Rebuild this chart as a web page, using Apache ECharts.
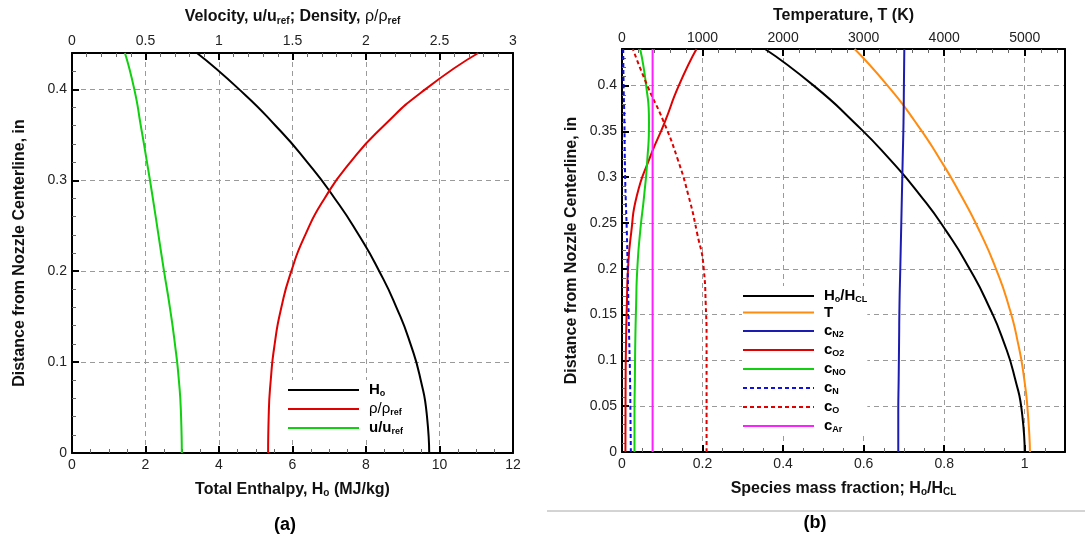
<!DOCTYPE html>
<html><head><meta charset="utf-8">
<script src="https://cdn.jsdelivr.net/npm/echarts@6/dist/echarts.min.js"></script>
<style>html,body{margin:0;padding:0;background:#fff}#c{width:1085px;height:540px}</style>
</head><body><div id="c"></div>
<script>
// ---------- data ----------
// distance from nozzle centerline (in), shared by both panels
const yDist = [0, 0.04, 0.08, 0.12, 0.16, 0.2, 0.24, 0.28, 0.32, 0.36, 0.4, 0.44];

// Panel (a)
const enthalpyHo = [9.72, 9.66, 9.49, 9.21, 8.83, 8.36, 7.80, 7.15, 6.40, 5.54, 4.55, 3.40];      // MJ/kg
const densityRatio = [1.334, 1.338, 1.352, 1.379, 1.424, 1.492, 1.587, 1.718, 1.894, 2.121, 2.403, 2.764];
const velocityRatio = [0.747, 0.742, 0.727, 0.70, 0.666, 0.626, 0.588, 0.55, 0.51, 0.468, 0.424, 0.36];

// Panel (b)
const hoRatio = [1.0, 0.994, 0.976, 0.948, 0.910, 0.863, 0.807, 0.741, 0.664, 0.576, 0.476, 0.355];
const temperature = [5065, 5041, 4993, 4914, 4800, 4643, 4445, 4210, 3945, 3645, 3297, 2888];  // K
const cN2 = [0.686, 0.686, 0.687, 0.688, 0.689, 0.691, 0.693, 0.695, 0.697, 0.699, 0.700, 0.701];
const cO2 = [0.0085, 0.0087, 0.009, 0.010, 0.012, 0.015, 0.023, 0.037, 0.068, 0.106, 0.141, 0.185];
const cNO = [0.031, 0.031, 0.032, 0.033, 0.035, 0.038, 0.045, 0.055, 0.063, 0.067, 0.060, 0.045];
const cN = [0.022, 0.021, 0.020, 0.018, 0.016, 0.014, 0.012, 0.009, 0.007, 0.006, 0.004, 0.003];
const cO = [0.21, 0.21, 0.21, 0.21, 0.208, 0.203, 0.186, 0.165, 0.138, 0.104, 0.063, 0.027];
const cAr = [0.076, 0.076, 0.076, 0.076, 0.076, 0.076, 0.076, 0.076, 0.076, 0.076, 0.076, 0.076];

// axis ranges / ticks
const xBottomA = {min: 0, max: 12, interval: 2};
const xTopA = {min: 0, max: 3, interval: 0.5};
const yAxisA = {min: 0, max: 0.44, interval: 0.1};
const xBottomB = {min: 0, max: 1.1, interval: 0.2};
const xTopB = {min: 0, max: 5500, interval: 1000};
const yAxisB = {min: 0, max: 0.44, interval: 0.05};

// ---------- helpers ----------
const FONT = "'Liberation Sans', Arial, Helvetica, sans-serif";
const pairs = (xs, ys) => xs.map((x, i) => [x, ys[i]]);
const rich = {
  b: {fontFamily: FONT, fontSize: 16, fontWeight: 'bold', color: '#111', lineHeight: 18},
  n: {fontFamily: FONT, fontSize: 16, fontWeight: 'normal', color: '#111', lineHeight: 18},
  s: {fontFamily: FONT, fontSize: 10, fontWeight: 'bold', color: '#111', lineHeight: 10, verticalAlign: 'bottom', padding: [11, 0, 0, 0]}
};
const legRich = {
  b: {fontFamily: FONT, fontSize: 15, fontWeight: 'bold', color: '#000', lineHeight: 16},
  n: {fontFamily: FONT, fontSize: 15, fontWeight: 'normal', color: '#000', lineHeight: 16},
  s: {fontFamily: FONT, fontSize: 9, fontWeight: 'bold', color: '#000', lineHeight: 9, verticalAlign: 'bottom', padding: [9, 0, 0, 0]}
};
const legendLabels = {
  Ho: '{b|H}{s|o}', rho: '{n|ρ/ρ}{s|ref}', u: '{b|u/u}{s|ref}',
  HoHCL: '{b|H}{s|o}{b|/H}{s|CL}', T: '{b|T}', cN2: '{b|c}{s|N2}', cO2: '{b|c}{s|O2}',
  cNO: '{b|c}{s|NO}', cN: '{b|c}{s|N}', cO: '{b|c}{s|O}', cAr: '{b|c}{s|Ar}'
};

function axisBase(extra, hideMax) {
  return Object.assign({
    type: 'value',
    axisLine: {show: true, onZero: false, lineStyle: {color: '#000', width: 2}},
    axisTick: {show: true, inside: true, length: 7, lineStyle: {color: '#000', width: 2}},
    minorTick: {show: true, length: 4, lineStyle: {color: '#666', width: 1}},
    axisLabel: {fontFamily: FONT, fontSize: 14, color: '#222', margin: 5, showMaxLabel: !hideMax,
      formatter: v => String(v)},
    splitLine: {show: false},
    nameLocation: 'middle',
    nameTextStyle: {fontFamily: FONT, fontSize: 16, fontWeight: 'bold', color: '#111', rich: rich}
  }, extra);
}
const dashed = {show: true, showMinLine: false, showMaxLine: false, lineStyle: {color: '#9a9a9a', type: [5, 4], width: 1}};
const minor = n => ({show: true, splitNumber: n, length: 4, lineStyle: {color: '#666', width: 1}});

function lineSeries(name, data, color, xi, yi, dash) {
  return {
    name: name, type: 'line', data: data, xAxisIndex: xi, yAxisIndex: yi,
    symbol: 'none', showSymbol: false, smooth: 0.6, silent: true,
    lineStyle: {color: color, width: 2, type: dash ? [4, 3] : 'solid'},
    itemStyle: {color: color}, z: 5
  };
}
function legendCfg(names, left, top) {
  return {data: names, orient: 'vertical', left: left, top: top, padding: 0,
    itemWidth: 71, itemHeight: 14, itemGap: 1, backgroundColor: '#fff',
    itemStyle: {opacity: 0}, selectedMode: false,
    formatter: n => legendLabels[n], textStyle: {rich: legRich, padding: [0, 0, 0, 5]}};
}

const option = {
  animation: false,
  backgroundColor: '#fff',
  grid: [
    {left: 72, right: 572, top: 51, bottom: 87},
    {left: 622, right: 20, top: 49, bottom: 88}
  ],
  xAxis: [
    axisBase(Object.assign({gridIndex: 0, position: 'bottom', splitLine: dashed, minorTick: minor(4),
      name: 'Total Enthalpy, H{s|o} (MJ/kg)', nameGap: 29}, xBottomA)),
    axisBase(Object.assign({gridIndex: 0, position: 'top', minorTick: minor(5),
      name: 'Velocity, u/u{s|ref}; Density, {n|ρ/ρ}{s|ref}', nameGap: 27}, xTopA)),
    axisBase(Object.assign({gridIndex: 1, position: 'bottom', splitLine: dashed, minorTick: minor(4),
      name: 'Species mass fraction; H{s|o}/H{s|CL}', nameGap: 29}, xBottomB), true),
    axisBase(Object.assign({gridIndex: 1, position: 'top', minorTick: minor(5),
      name: 'Temperature, T (K)', nameGap: 25, axisLabel: {fontFamily: FONT, fontSize: 14, color: '#222',
      margin: 4, showMaxLabel: false, formatter: v => String(v)}}, xTopB))
  ],
  yAxis: [
    axisBase(Object.assign({gridIndex: 0, position: 'left', splitLine: dashed, minorTick: minor(5),
      name: 'Distance from Nozzle Centerline, in', nameGap: 44}, yAxisA), true),
    axisBase(Object.assign({gridIndex: 0, position: 'right', axisTick: {show: false}, minorTick: {show: false},
      axisLabel: {show: false}}, yAxisA)),
    axisBase(Object.assign({gridIndex: 1, position: 'left', splitLine: dashed, minorTick: minor(5),
      name: 'Distance from Nozzle Centerline, in', nameGap: 42}, yAxisB), true),
    axisBase(Object.assign({gridIndex: 1, position: 'right', axisTick: {show: false}, minorTick: {show: false},
      axisLabel: {show: false}}, yAxisB))
  ],
  legend: [
    legendCfg(['Ho', 'rho', 'u'], 287, 380),
    legendCfg(['HoHCL', 'T', 'cN2', 'cO2', 'cNO', 'cN', 'cO', 'cAr'], 742, 286)
  ],
  series: [
    lineSeries('Ho', pairs(enthalpyHo, yDist), '#000000', 0, 0),
    lineSeries('rho', pairs(densityRatio, yDist), '#e00000', 1, 0),
    lineSeries('u', pairs(velocityRatio, yDist), '#10d010', 1, 0),
    lineSeries('HoHCL', pairs(hoRatio, yDist), '#000000', 2, 2),
    lineSeries('T', pairs(temperature, yDist), '#ff8c10', 3, 2),
    lineSeries('cN2', pairs(cN2, yDist), '#1c1cb0', 2, 2),
    lineSeries('cO2', pairs(cO2, yDist), '#e00000', 2, 2),
    lineSeries('cNO', pairs(cNO, yDist), '#10d010', 2, 2),
    lineSeries('cN', pairs(cN, yDist), '#1010e0', 2, 2, true),
    lineSeries('cO', pairs(cO, yDist), '#e00000', 2, 2, true),
    lineSeries('cAr', pairs(cAr, yDist), '#ff20ff', 2, 2)
  ],
  graphic: [
    {type: 'line', shape: {x1: 547, y1: 511, x2: 1085, y2: 511}, style: {stroke: '#a8a8a8', lineWidth: 1}},
    {type: 'text', x: 285, y: 525, style: {text: '(a)', font: 'bold 18px ' + FONT, fill: '#000', textAlign: 'center', textVerticalAlign: 'middle'}},
    {type: 'text', x: 815, y: 523, style: {text: '(b)', font: 'bold 18px ' + FONT, fill: '#000', textAlign: 'center', textVerticalAlign: 'middle'}}
  ]
};
const chart = echarts.init(document.getElementById('c'), null, {renderer: 'canvas'});
chart.setOption(option);
</script></body></html>
